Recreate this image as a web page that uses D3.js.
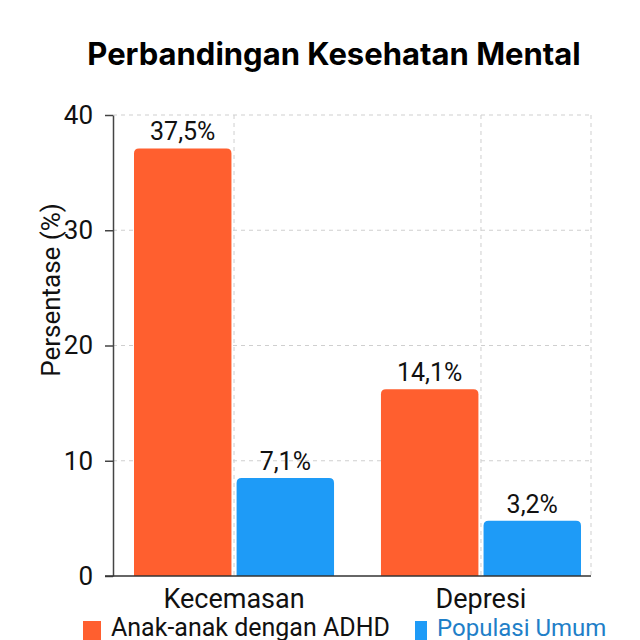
<!DOCTYPE html>
<html>
<head>
<meta charset="utf-8">
<script src="https://cdn.jsdelivr.net/npm/d3@7"></script>
<style>
  body { margin: 0; background: #fff; }
  text { font-family: Roboto, "Noto Sans", sans-serif; }
</style>
</head>
<body>
<div id="chart"></div>
<script>
// data
var categories = ["Kecemasan", "Depresi"];
var seriesNames = ["Anak-anak dengan ADHD", "Populasi Umum"];
var adhdValues = [37.1, 16.2];
var umumValues = [8.5, 4.8];
var adhdLabels = ["37,5%", "14,1%"];
var umumLabels = ["7,1%", "3,2%"];
var yTicks = [0, 10, 20, 30, 40];

var colors = ["#FF5F2F", "#1E9BF7"];
var legendTextColors = ["#111", "#1F7FC8"];

var svg = d3.select("#chart")
    .append("svg")
    .attr("width", 640)
    .attr("height", 640);

var plotLeft = 113, plotRight = 591, plotTop = 115, plotBottom = 576;

var y = d3.scaleLinear().domain([0, 40]).range([plotBottom, plotTop]);

var x0 = d3.scaleBand()
    .domain(categories)
    .range([134, 581])
    .paddingInner(0.19)
    .paddingOuter(0);

var x1 = d3.scaleBand()
    .domain([0, 1])
    .range([0, x0.bandwidth()])
    .paddingInner(0.05);

// grid
var grid = svg.append("g").attr("class", "grid");
grid.selectAll("line.h")
    .data(yTicks.filter(d => d > 0))
    .enter().append("line")
    .attr("x1", plotLeft).attr("x2", plotRight)
    .attr("y1", d => y(d)).attr("y2", d => y(d))
    .attr("stroke", "#cfcfcf")
    .attr("stroke-dasharray", "4,4");

var vGrid = categories.map(c => x0(c) + x0.bandwidth() / 2).concat([plotRight]);
grid.selectAll("line.v")
    .data(vGrid)
    .enter().append("line")
    .attr("x1", d => d).attr("x2", d => d)
    .attr("y1", plotTop).attr("y2", plotBottom)
    .attr("stroke", "#cfcfcf")
    .attr("stroke-dasharray", "4,4");

// bars with rounded tops
function barPath(x, yTop, w, h, r) {
    return "M" + x + "," + (yTop + h) +
        "V" + (yTop + r) +
        "Q" + x + "," + yTop + " " + (x + r) + "," + yTop +
        "H" + (x + w - r) +
        "Q" + (x + w) + "," + yTop + " " + (x + w) + "," + (yTop + r) +
        "V" + (yTop + h) + "Z";
}

var rows = categories.map((c, i) => ({
    cat: c,
    vals: [adhdValues[i], umumValues[i]],
    labels: [adhdLabels[i], umumLabels[i]]
}));

var groups = svg.append("g").selectAll("g")
    .data(rows)
    .enter().append("g")
    .attr("transform", d => "translate(" + x0(d.cat) + ",0)");

groups.selectAll("path")
    .data(d => d.vals.map((v, j) => ({ v: v, j: j })))
    .enter().append("path")
    .attr("d", d => barPath(x1(d.j), y(d.v), x1.bandwidth(), plotBottom - y(d.v), 5))
    .attr("fill", d => colors[d.j]);

groups.selectAll("text")
    .data(d => d.vals.map((v, j) => ({ v: v, j: j, label: d.labels[j] })))
    .enter().append("text")
    .attr("x", d => x1(d.j) + x1.bandwidth() / 2)
    .attr("y", d => y(d.v) - 8)
    .attr("text-anchor", "middle")
    .style("font-size", "25px")
    .attr("fill", "#111")
    .text(d => d.label);

// y axis
var yAxis = svg.append("g")
    .attr("transform", "translate(" + plotLeft + ",0)")
    .call(d3.axisLeft(y).tickValues(yTicks).tickSize(8).tickPadding(12).tickSizeOuter(0));
yAxis.select(".domain").attr("stroke", "#444").attr("stroke-width", 1.5);
yAxis.selectAll(".tick line").attr("stroke", "#444").attr("stroke-width", 1.5);
yAxis.selectAll(".tick text")
    .style("font-size", "26px")
    .style("font-family", "Roboto, sans-serif")
    .attr("fill", "#111");

// x axis
svg.append("line")
    .attr("x1", plotLeft - 8).attr("x2", plotRight)
    .attr("y1", plotBottom).attr("y2", plotBottom)
    .attr("stroke", "#333").attr("stroke-width", 1.5);

svg.append("g").selectAll("text")
    .data(categories)
    .enter().append("text")
    .attr("x", d => x0(d) + x0.bandwidth() / 2)
    .attr("y", 608)
    .attr("text-anchor", "middle")
    .style("font-size", "27px")
    .attr("fill", "#111")
    .text(d => d);

// y title
svg.append("text")
    .attr("transform", "translate(60,290) rotate(-90)")
    .attr("text-anchor", "middle")
    .style("font-size", "26px")
    .attr("fill", "#111")
    .text("Persentase (%)");

// title
svg.append("text")
    .attr("x", 334)
    .attr("y", 65)
    .attr("text-anchor", "middle")
    .style("font-family", "Inter, Roboto, sans-serif")
    .style("font-weight", 700)
    .style("font-size", "31px")
    .attr("fill", "#000")
    .text("Perbandingan Kesehatan Mental");

// legend
var legendX = [83, 415];
var legendW = [18, 12];
var legendSize = [25, 24];
var legend = svg.append("g");
seriesNames.forEach(function (name, i) {
    legend.append("rect")
        .attr("x", legendX[i]).attr("y", 621)
        .attr("width", legendW[i]).attr("height", 19)
        .attr("fill", colors[i]);
    legend.append("text")
        .attr("x", legendX[i] + legendW[i] + 10)
        .attr("y", 636)
        .style("font-size", legendSize[i] + "px")
        .attr("fill", legendTextColors[i])
        .text(name);
});
</script>
</body>
</html>
